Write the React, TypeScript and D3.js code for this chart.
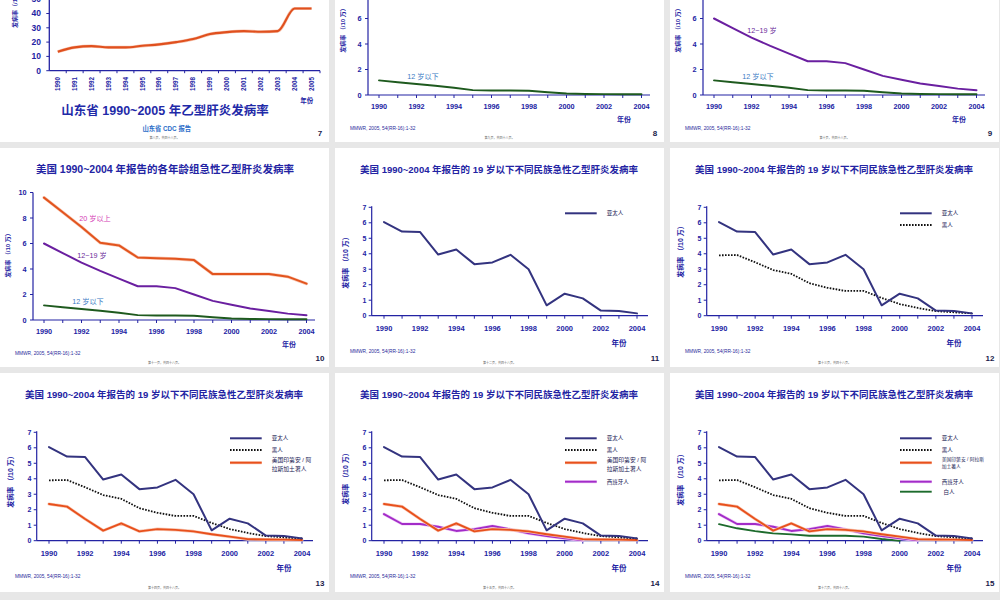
import React from "react";
import * as d3 from "d3";

// ---------------- data ----------------
const years1990to2005 = [1990, 1991, 1992, 1993, 1994, 1995, 1996, 1997, 1998, 1999, 2000, 2001, 2002, 2003, 2004, 2005];
const years1990to2004 = [1990, 1991, 1992, 1993, 1994, 1995, 1996, 1997, 1998, 1999, 2000, 2001, 2002, 2003, 2004];
const evenYearLabels = [1990, 1992, 1994, 1996, 1998, 2000, 2002, 2004];
const shandongTicks = [0, 10, 20, 30, 40, 50];
const ageTicks = [0, 2, 4, 6, 8, 10];
const ethnicTicks = [0, 1, 2, 3, 4, 5, 6, 7];

// Shandong hepatitis B incidence (/10万)
const shandongIncidence = [13.3, 16.3, 17.2, 16.3, 16.3, 17.4, 18.4, 20.0, 22.1, 25.6, 27.0, 27.7, 27.2, 27.7, 43.5, 43.5];

// USA by age group
const ageOver20 = [9.6, 8.45, 7.3, 6.05, 5.85, 4.9, 4.85, 4.8, 4.7, 3.6, 3.6, 3.6, 3.6, 3.4, 2.85];
const age12to19 = [6.0, 5.25, 4.5, 3.85, 3.25, 2.65, 2.65, 2.5, 2.0, 1.5, 1.2, 0.9, 0.7, 0.5, 0.37];
const ageUnder12 = [1.15, 1.0, 0.86, 0.72, 0.57, 0.38, 0.35, 0.35, 0.33, 0.22, 0.12, 0.08, 0.07, 0.06, 0.06];

// USA under 19 by ethnicity
const asianPacific = [6.05, 5.43, 5.4, 3.95, 4.27, 3.33, 3.44, 3.93, 3.0, 0.67, 1.42, 1.12, 0.33, 0.3, 0.15];
const blackRates = [3.9, 3.92, 3.45, 2.95, 2.7, 2.1, 1.8, 1.6, 1.6, 1.15, 0.75, 0.5, 0.3, 0.22, 0.15];
const nativeAmerican = [2.37, 2.2, 1.4, 0.65, 1.12, 0.6, 0.75, 0.7, 0.6, 0.42, 0.26, 0.1, 0.08, 0.07, 0.05];
const hispanicRates = [1.72, 1.08, 1.08, 0.9, 0.63, 0.75, 0.95, 0.73, 0.47, 0.3, 0.15, 0.02];
const whiteRates = [1.07, 0.8, 0.62, 0.47, 0.41, 0.32, 0.32, 0.32, 0.26, 0.11, 0.0];

// ---------------- styling ----------------
const PW = 329;
const PH = 219;
const colX = [0, 335, 670];
const rowY = [-77, 148, 373];
const BLUE = "#2323a3";
const FONT = "'Liberation Sans', Arial, 'Noto Sans CJK SC', sans-serif";

type Series = { name: string; values: number[]; color: string; width: number; dash?: string; glow?: string };

const S_ASIAN: Series = { name: "亚太人", values: asianPacific, color: "#33337f", width: 2 };
const S_BLACK: Series = { name: "黑人", values: blackRates, color: "#111111", width: 1.8, dash: "1.6 1.4" };
const S_NATIVE: Series = { name: "美国印第安 / 阿拉斯加土著人", values: nativeAmerican, color: "#e8501c", width: 1.9, glow: "#f8c8b4" };
const S_HISPANIC: Series = { name: "西班牙人", values: hispanicRates, color: "#a22cc8", width: 1.9, glow: "#efc8f6" };
const S_WHITE: Series = { name: "白人", values: whiteRates, color: "#1d6b2c", width: 1.9 };

function Frame({ col, row, children }: { col: number; row: number; children: React.ReactNode }) {
  return (
    <g transform={`translate(${colX[col]},${rowY[row]})`}>
      <rect width={PW} height={PH} fill="#ffffff" />
      {children}
    </g>
  );
}

function Footer({ page, tiny, refY, showRef = true }: { page: string; tiny: string; refY: number; showRef?: boolean }) {
  return (
    <g fontFamily={FONT}>
      {showRef && (
        <text x={15} y={refY} fontSize={4.8} fill="#2a2a9a">
          MMWR, 2005, 54(RR-16):1-32
        </text>
      )}
      <text x={320} y={213} fontSize={8} fontWeight="bold" fill="#1a1a4a" textAnchor="middle">
        {page}
      </text>
      <text x={164.5} y={216} fontSize={3} fill="#666" textAnchor="middle">
        {tiny}
      </text>
    </g>
  );
}

function SeriesPath({ s, x, y }: { s: Series; x: (v: number) => number; y: d3.ScaleLinear<number, number> }) {
  const gen = d3
    .line<number>()
    .x((_, i) => x(years1990to2004[i]))
    .y((d) => y(d));
  const d = gen(s.values) || "";
  return (
    <g>
      {s.glow && <path d={d} fill="none" stroke={s.glow} strokeWidth={s.width + 1.2} strokeLinejoin="round" strokeLinecap="round" />}
      <path d={d} fill="none" stroke={s.color} strokeWidth={s.width} strokeDasharray={s.dash} strokeLinejoin="round" strokeLinecap={s.dash ? "butt" : "round"} />
    </g>
  );
}

// ---------------- panel 7: Shandong ----------------
function ShandongPanel() {
  const x = d3.scaleBand<number>().domain(years1990to2005).range([49.3, 320]);
  const y = d3.scaleLinear().domain([0, 50]).range([147.7, 76.2]);
  const line = d3
    .line<number>()
    .x((_, i) => (x(years1990to2005[i]) as number) + x.bandwidth() / 2)
    .y((d) => y(d))
    .curve(d3.curveMonotoneX);
  return (
    <Frame col={0} row={0}>
      <g fontFamily={FONT}>
        <line x1={49.3} x2={49.3} y1={y(0)} y2={60} stroke={BLUE} strokeWidth={1.3} />
        <line x1={49.3} x2={320} y1={y(0)} y2={y(0)} stroke={BLUE} strokeWidth={1.3} />
        {shandongTicks.map((t) => (
          <g key={t}>
            <line x1={46.3} x2={49.3} y1={y(t)} y2={y(t)} stroke={BLUE} strokeWidth={1} />
            <text x={41} y={y(t)} dy="0.35em" fontSize={8.5} fontWeight="bold" fill={BLUE} textAnchor="end">
              {t}
            </text>
          </g>
        ))}
        {years1990to2005.map((yr) => (
          <line key={"b" + yr} x1={(x(yr) as number) + x.bandwidth()} x2={(x(yr) as number) + x.bandwidth()} y1={y(0)} y2={y(0) + 2.5} stroke={BLUE} strokeWidth={1} />
        ))}
        {years1990to2005.map((yr) => {
          const cx = (x(yr) as number) + x.bandwidth() / 2;
          return (
            <text key={yr} transform={`translate(${cx + 2.2},${154}) rotate(-90)`} fontSize={6.3} fontWeight="bold" fill={BLUE} textAnchor="end">
              {yr}
            </text>
          );
        })}
        <path d={line(shandongIncidence) || ""} fill="none" stroke="#f6c6b2" strokeWidth={3.2} strokeLinejoin="round" />
        <path d={line(shandongIncidence) || ""} fill="none" stroke="#e0501e" strokeWidth={2.1} strokeLinejoin="round" />
        <text transform={`translate(17,105) rotate(-90)`} fontSize={6} fontWeight="bold" fill={BLUE}>
          发病率（/10 万）
        </text>
        <text x={306.7} y={179.5} fontSize={6.5} fontWeight="bold" fill={BLUE} textAnchor="middle">
          年份
        </text>
        <text x={165} y={191.5} fontSize={12.5} fontWeight="bold" fill="#1f2aa8" textAnchor="middle">
          山东省 1990~2005 年乙型肝炎发病率
        </text>
        <text x={166.7} y={207.6} fontSize={6.3} fontWeight="bold" fill="#2a6cc8" textAnchor="middle">
          山东省 CDC 报告
        </text>
      </g>
      <Footer page="7" tiny="第八页，共四十八页。" refY={0} showRef={false} />
    </Frame>
  );
}

// ---------------- age panels (8, 9, 10) ----------------
type AgeLabel = { text: string; x: number; y: number; color: string };

function AgePanel({ col, row, page, tiny, series, labels }: { col: number; row: number; page: string; tiny: string; series: Series[]; labels: AgeLabel[] }) {
  const x = d3.scaleLinear().domain([1990, 2004]).range([44, 306.5]);
  const y = d3.scaleLinear().domain([0, 10]).range([172, 44.5]);
  return (
    <Frame col={col} row={row}>
      <g fontFamily={FONT}>
        <text x={165} y={24.5} fontSize={10.5} fontWeight="bold" fill={BLUE} textAnchor="middle">
          美国 1990~2004 年报告的各年龄组急性乙型肝炎发病率
        </text>
        <line x1={33} x2={33} y1={y(0)} y2={y(10)} stroke={BLUE} strokeWidth={1.2} />
        <line x1={33} x2={315} y1={y(0)} y2={y(0)} stroke={BLUE} strokeWidth={1.2} />
        {ageTicks.map((t) => (
          <g key={t}>
            <line x1={30} x2={33} y1={y(t)} y2={y(t)} stroke={BLUE} strokeWidth={1} />
            <text x={26.5} y={y(t)} dy="0.35em" fontSize={7.3} fontWeight="bold" fill={BLUE} textAnchor="end">
              {t}
            </text>
          </g>
        ))}
        {years1990to2004.map((yr) => (
          <line key={yr} x1={x(yr)} x2={x(yr)} y1={y(0)} y2={y(0) + 3} stroke={BLUE} strokeWidth={1} />
        ))}
        {evenYearLabels.map((yr) => (
          <text key={yr} x={x(yr)} y={186.3} fontSize={7.3} fontWeight="bold" fill={BLUE} textAnchor="middle">
            {yr}
          </text>
        ))}
        {series.map((s) => (
          <SeriesPath key={s.name} s={s} x={x} y={y} />
        ))}
        {labels.map((l) => (
          <text key={l.text} x={l.x} y={l.y} dy="0.35em" fontSize={7.2} fill={l.color} textAnchor="middle">
            {l.text}
          </text>
        ))}
        <text transform={`translate(9.5,106) rotate(-90)`} fontSize={6} fontWeight="bold" fill={BLUE} textAnchor="middle">
          发病率 （/10 万）
        </text>
        <text x={289} y={198.8} fontSize={7} fontWeight="bold" fill={BLUE} textAnchor="middle">
          年份
        </text>
      </g>
      <Footer page={page} tiny={tiny} refY={206.5} />
    </Frame>
  );
}

// ---------------- ethnic panels (11 - 15) ----------------
function EthnicPanel({ col, row, page, tiny, series, yLabelY, small }: { col: number; row: number; page: string; tiny: string; series: Series[]; yLabelY: number; small?: boolean }) {
  const x = d3.scaleLinear().domain([1990, 2004]).range([49, 302]);
  const y = d3.scaleLinear().domain([0, 7]).range([167.7, 59.3]);
  const legendY: Record<string, number> = { 亚太人: 65.3, 黑人: 77, "美国印第安 / 阿拉斯加土著人": 89.7, 西班牙人: 108.7, 白人: 118.7 };
  return (
    <Frame col={col} row={row}>
      <g fontFamily={FONT}>
        <text x={164} y={25.3} fontSize={9.5} fontWeight="bold" fill={BLUE} textAnchor="middle">
          美国 1990~2004 年报告的 19 岁以下不同民族急性乙型肝炎发病率
        </text>
        <line x1={36.7} x2={36.7} y1={y(0)} y2={y(7) - 1} stroke={BLUE} strokeWidth={1.2} />
        <line x1={36.7} x2={313} y1={y(0)} y2={y(0)} stroke={BLUE} strokeWidth={1.2} />
        {ethnicTicks.map((t) => (
          <g key={t}>
            <line x1={33.7} x2={36.7} y1={y(t)} y2={y(t)} stroke={BLUE} strokeWidth={1} />
            <text x={31.5} y={y(t)} dy="0.35em" fontSize={7} fontWeight="bold" fill={BLUE} textAnchor="end">
              {t}
            </text>
          </g>
        ))}
        {years1990to2004.map((yr) => (
          <line key={yr} x1={x(yr)} x2={x(yr)} y1={y(0)} y2={y(0) + 3} stroke={BLUE} strokeWidth={1} />
        ))}
        {evenYearLabels.map((yr) => (
          <text key={yr} x={x(yr)} y={182.5} fontSize={7.5} fontWeight="bold" fill={BLUE} textAnchor="middle">
            {yr}
          </text>
        ))}
        {[...series].reverse().map((s) => (
          <SeriesPath key={s.name} s={s} x={x} y={y} />
        ))}
        {series.map((s) => {
          const ly = legendY[s.name];
          return (
            <g key={"lg" + s.name}>
              {s.glow && <line x1={230} x2={261.7} y1={ly} y2={ly} stroke={s.glow} strokeWidth={s.width + 1.2} />}
              <line x1={230} x2={261.7} y1={ly} y2={ly} stroke={s.color} strokeWidth={s.width} strokeDasharray={s.dash} />
              {s.name === "美国印第安 / 阿拉斯加土著人" ? (
                small ? (
                  <g fontSize={4.8} fill="#222255">
                    <text x={271.7} y={86.3} dy="0.35em">美国印第安 / 阿拉斯</text>
                    <text x={271.7} y={93} dy="0.35em">加土著人</text>
                  </g>
                ) : (
                  <g fontSize={5.8} fill="#222255">
                    <text x={271.7} y={87} dy="0.35em">美国印第安 / 阿</text>
                    <text x={271.7} y={96} dy="0.35em">拉斯加土著人</text>
                  </g>
                )
              ) : (
                <text x={s.name === "白人" ? 273.5 : 271.7} y={ly} dy="0.35em" fontSize={5.5} fill="#222255">
                  {s.name}
                </text>
              )}
            </g>
          );
        })}
        <text transform={`translate(13,${yLabelY}) rotate(-90)`} fontSize={7} fontWeight="bold" fill={BLUE} textAnchor="middle">
          发病率 （/10 万）
        </text>
        <text x={284} y={197.7} fontSize={7.5} fontWeight="bold" fill={BLUE} textAnchor="middle">
          年份
        </text>
      </g>
      <Footer page={page} tiny={tiny} refY={204.5} />
    </Frame>
  );
}

const S_AGE20: Series = { name: "20 岁以上", values: ageOver20, color: "#e2541e", width: 2, glow: "#f8c8b4" };
const S_AGE12_19: Series = { name: "12~19 岁", values: age12to19, color: "#6a1fa0", width: 2 };
const S_AGE_U12: Series = { name: "12 岁以下", values: ageUnder12, color: "#1e5a1e", width: 1.9 };

const L20: AgeLabel = { text: "20 岁以上", x: 95, y: 70, color: "#d43cb4" };
const L1219: AgeLabel = { text: "12~19 岁", x: 92, y: 107, color: "#6a2a9a" };
const LU12: AgeLabel = { text: "12 岁以下", x: 88, y: 153.7, color: "#3a7ac4" };

export default function App() {
  return (
    <svg width={1000} height={600} viewBox="0 0 1000 600" style={{ position: "absolute", left: 0, top: 0, display: "block" }}>
      <rect width={1000} height={600} fill="#e7e7e7" />
      <ShandongPanel />
      <AgePanel col={1} row={0} page="8" tiny="第九页，共四十八页。" series={[S_AGE_U12]} labels={[LU12]} />
      <AgePanel col={2} row={0} page="9" tiny="第十页，共四十八页。" series={[S_AGE_U12, S_AGE12_19]} labels={[L1219, LU12]} />
      <AgePanel col={0} row={1} page="10" tiny="第十一页，共四十八页。" series={[S_AGE_U12, S_AGE12_19, S_AGE20]} labels={[L20, L1219, LU12]} />
      <EthnicPanel col={1} row={1} page="11" tiny="第十二页，共四十八页。" series={[S_ASIAN]} yLabelY={113} />
      <EthnicPanel col={2} row={1} page="12" tiny="第十三页，共四十八页。" series={[S_ASIAN, S_BLACK]} yLabelY={102} />
      <EthnicPanel col={0} row={2} page="13" tiny="第十四页，共四十八页。" series={[S_ASIAN, S_BLACK, S_NATIVE]} yLabelY={107} />
      <EthnicPanel col={1} row={2} page="14" tiny="第十五页，共四十八页。" series={[S_ASIAN, S_BLACK, S_NATIVE, S_HISPANIC]} yLabelY={104} />
      <EthnicPanel col={2} row={2} page="15" tiny="第十六页，共四十八页。" series={[S_ASIAN, S_BLACK, S_NATIVE, S_HISPANIC, S_WHITE]} yLabelY={105} small />
    </svg>
  );
}
